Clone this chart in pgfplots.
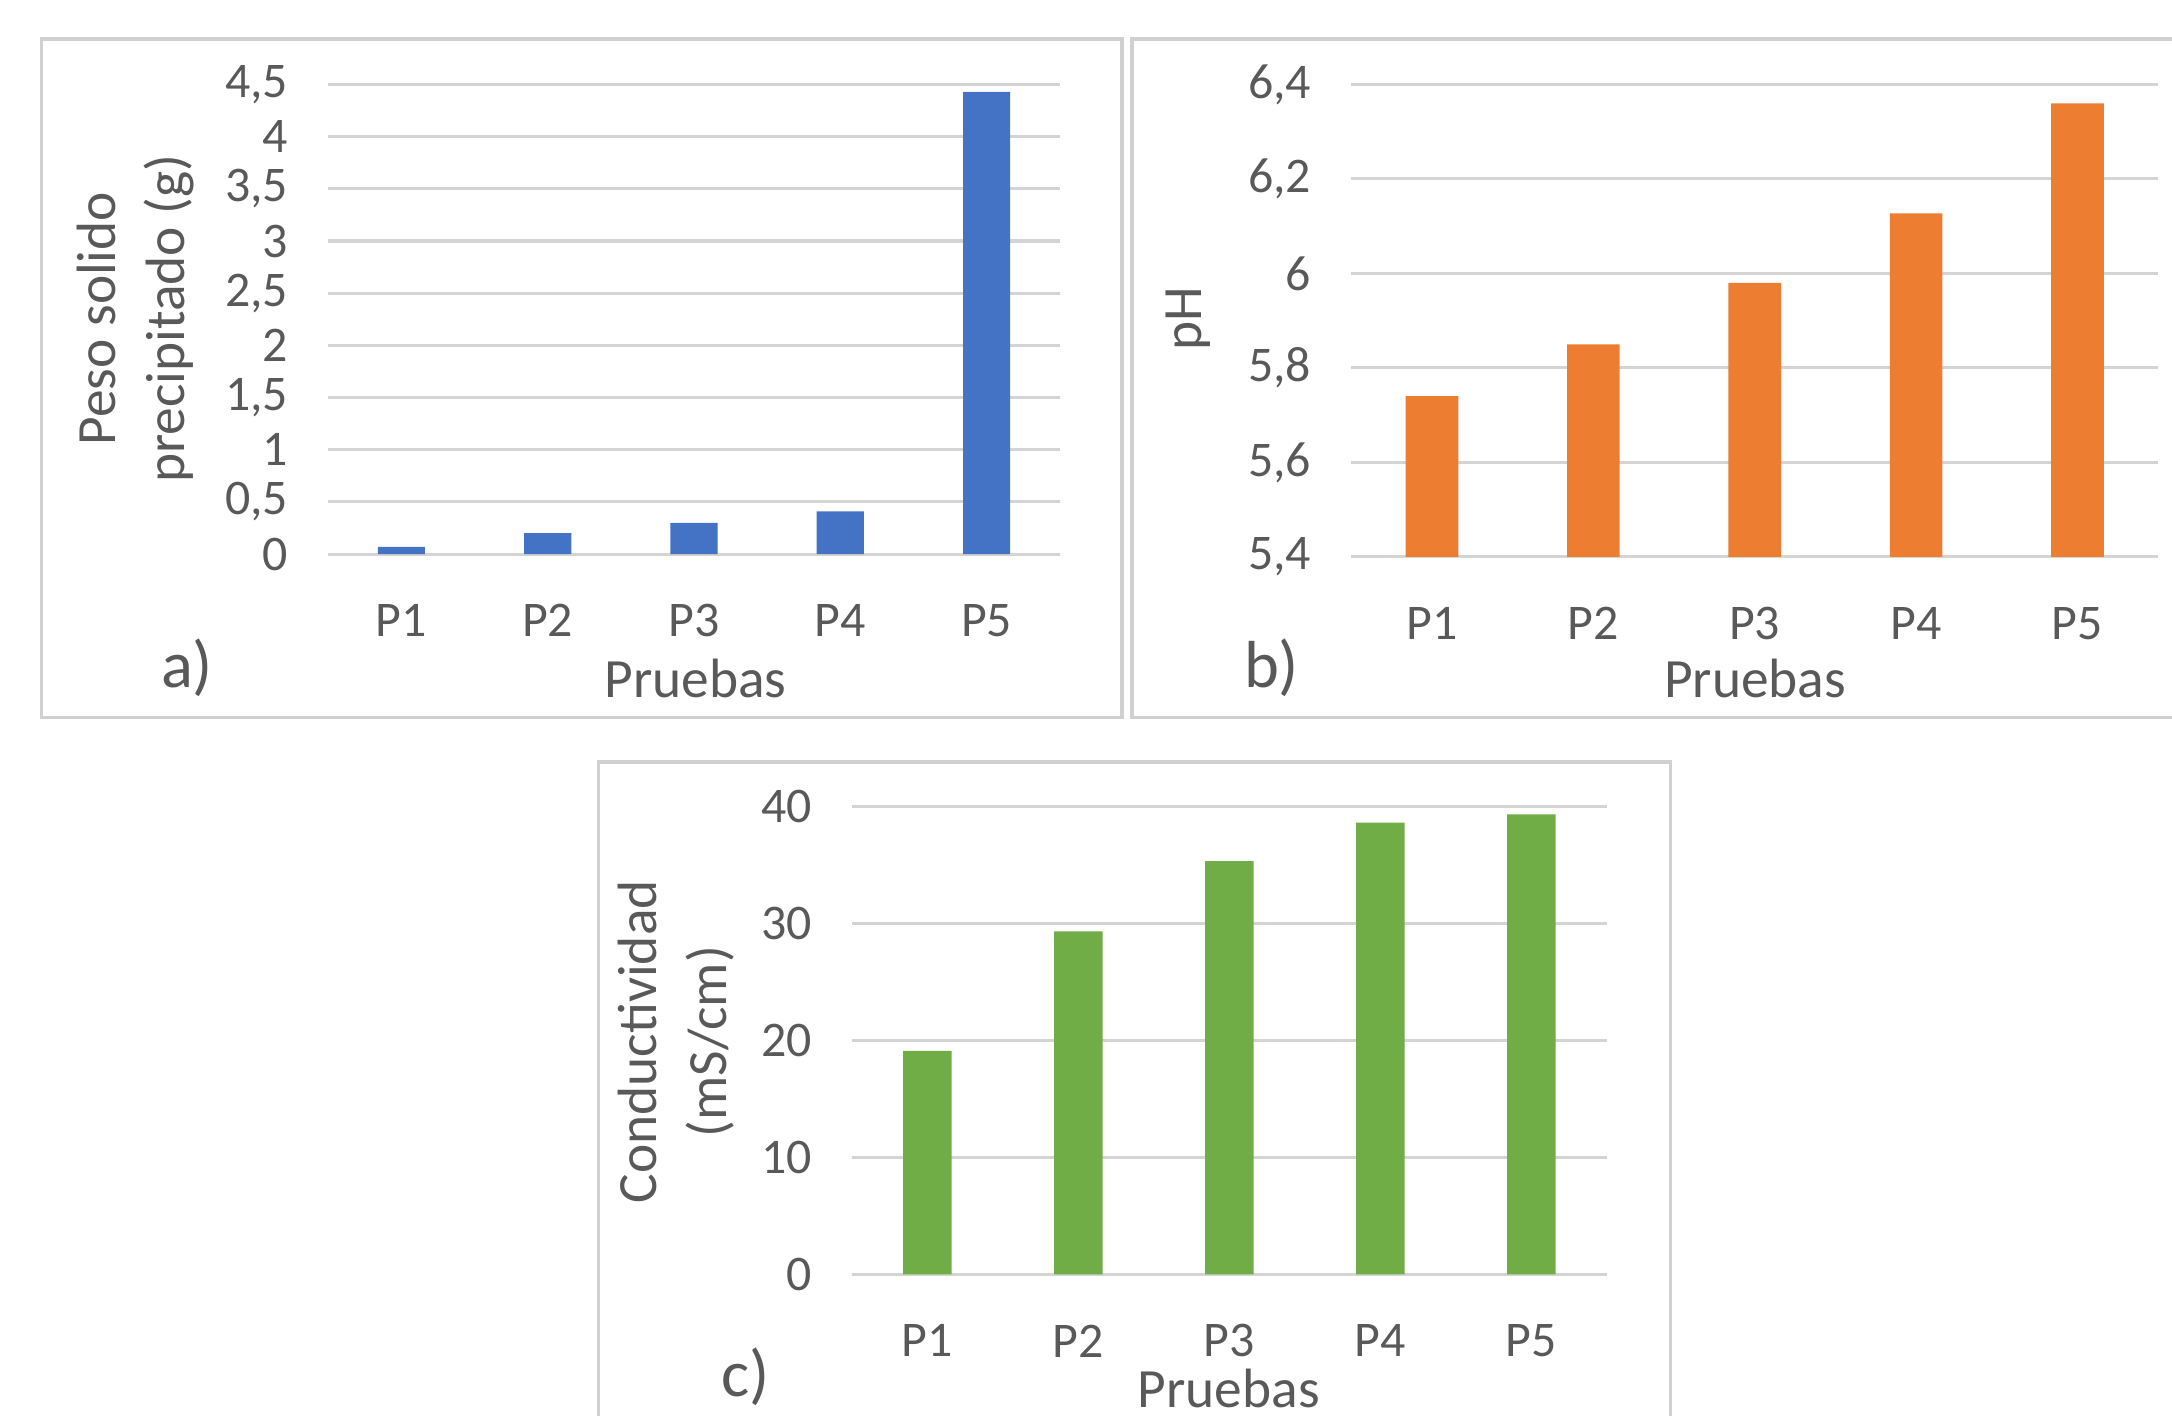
\documentclass[border=0pt]{standalone}
\usepackage{pgfplots}
\pgfplotsset{compat=1.18}
\usepackage{fontspec}
\setmainfont{Carlito}
\definecolor{barblue}{HTML}{4472C4}
\definecolor{barorange}{HTML}{ED7D31}
\definecolor{bargreen}{HTML}{70AD47}
\definecolor{gridgray}{HTML}{D4D4D4}
\definecolor{framegray}{HTML}{D0D0D0}
\definecolor{txtgray}{HTML}{595959}
\pgfplotsset{
  panel/.style={
    scale only axis,
    xmin=-0.5, xmax=4.5,
    enlargelimits=false,
    ybar, bar shift=0pt,
    axis line style={draw=none},
    major tick length=0pt,
    ymajorgrids,
    grid style={gridgray, line width=1.1pt},
    xtick={0,1,2,3,4},
    xticklabels={P1,P2,P3,P4,P5},
    tick label style={font=\fontsize{18}{21}\selectfont, text=txtgray},
    xticklabel style={anchor=center, yshift=-24pt, inner sep=0.5pt},
    yticklabel style={anchor=east, xshift=-11pt},
    /pgf/number format/assume math mode=true,
    /pgf/number format/use comma,
    /pgf/number format/1000 sep={},
  }
}
\begin{document}
\begin{tikzpicture}
\path[use as bounding box] (0pt,0pt) rectangle (784pt,511pt);
\clip (0pt,0pt) rectangle (784pt,511pt);
% frames
\draw[framegray, line width=1.3pt] (15pt,252pt) rectangle (405pt,497pt);
\draw[framegray, line width=1.3pt] (408.5pt,252pt) rectangle (800pt,497pt);
\draw[framegray, line width=1.3pt] (216pt,-10pt) rectangle (603pt,236pt);

% panel a
\begin{axis}[panel, at={(118.5pt,311pt)}, anchor=south west,
  width=264pt, height=169.5pt,
  ymin=0, ymax=4.5, ytick={0,0.5,1,1.5,2,2.5,3,3.5,4,4.5},
  bar width=17pt]
\addplot[fill=barblue, draw=none] coordinates {(0,0.07) (1,0.2) (2,0.3) (3,0.41) (4,4.43)};
\end{axis}

% panel b
\begin{axis}[panel, at={(487.75pt,310pt)}, anchor=south west,
  width=291.25pt, height=170.5pt,
  ymin=5.4, ymax=6.4, ytick={5.4,5.6,5.8,6,6.2,6.4},
  bar width=19pt]
\addplot[fill=barorange, draw=none] coordinates {(0,5.74) (1,5.85) (2,5.98) (3,6.127) (4,6.36)};
\end{axis}

% panel c
\begin{axis}[panel, at={(307.5pt,51pt)}, anchor=south west,
  width=272.5pt, height=169pt,
  ymin=0, ymax=40, ytick={0,10,20,30,40},
  bar width=17.5pt]
\addplot[fill=bargreen, draw=none] coordinates {(0,19.1) (1,29.3) (2,35.3) (3,38.6) (4,39.3)};
\end{axis}

% labels
\begin{scope}[every node/.style={text=txtgray, font=\fontsize{20}{25}\selectfont}]
\node[rotate=90, align=center] at (49pt,396pt) {Peso solido\\precipitado (g)};
\node[rotate=90] at (429pt,396pt) {pH};
\node[rotate=90, align=center] at (244pt,135pt) {Conductividad\\(mS/cm)};
\node at (251pt,266pt) {Pruebas};
\node at (633.5pt,266pt) {Pruebas};
\node[inner sep=0pt] at (443.5pt,10pt) {Pruebas};
\end{scope}
\begin{scope}[every node/.style={text=txtgray, font=\fontsize{24}{28}\selectfont}]
\node at (67.5pt,270pt) {a)};
\node at (459pt,270pt) {b)};
\node[inner sep=0pt] at (269pt,14pt) {c)};
\end{scope}
\end{tikzpicture}
\end{document}
